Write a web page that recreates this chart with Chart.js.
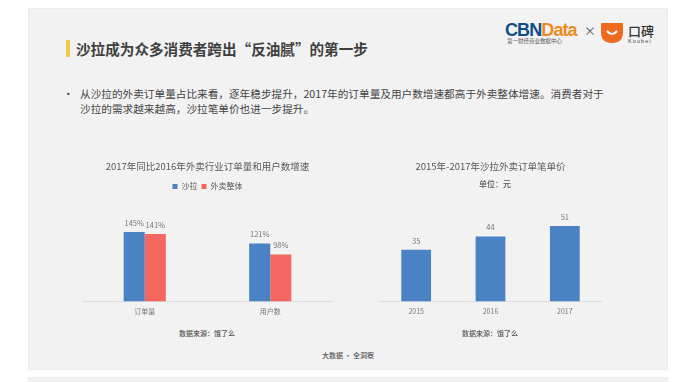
<!DOCTYPE html>
<html lang="zh">
<head>
<meta charset="utf-8">
<title>沙拉成为众多消费者跨出“反油腻”的第一步</title>
<script src="https://cdn.jsdelivr.net/npm/chart.js@4/dist/chart.umd.min.js"></script>
<style>
  html, body { margin: 0; padding: 0; background: #fff; overflow: hidden; }
  body { width: 700px; height: 382px; position: relative; font-family: "Noto Sans CJK SC", "Noto Sans", sans-serif; color: #444; }
  .panel { position: absolute; left: 28px; width: 640px; background: #f2f2f2; box-sizing: border-box; border: 1px solid #ececec; }
  .txt { position: absolute; white-space: nowrap; line-height: 1; }
  .mid { transform: translateX(-50%); }
  canvas { position: absolute; }
</style>
</head>
<body>
<div class="panel" style="top:8px;height:362px"></div>
<div class="panel" style="top:377px;height:12px"></div>

<div style="position:absolute;left:66px;top:40px;width:4px;height:17px;background:#f0c94a"></div>
<div class="txt" style="left:76px;top:42px;font-size:14.6px;font-weight:700;color:#3f3f3f">沙拉成为众多消费者跨出“反油腻”的第一步</div>

<div class="txt" style="left:63px;top:89px;font-size:10.6px">•</div>
<div class="txt" style="left:80px;top:89px;font-size:10.65px">从沙拉的外卖订单量占比来看，逐年稳步提升，2017年的订单量及用户数增速都高于外卖整体增速。消费者对于</div>
<div class="txt" style="left:80px;top:103.5px;font-size:10.65px">沙拉的需求越来越高，沙拉笔单价也进一步提升。</div>

<!-- logos -->
<div class="txt" style="left:505px;top:20px;font:700 18px 'Liberation Sans';letter-spacing:-0.9px;color:#0f4c8a">CBN<span style="color:#ee8a1f">Data</span></div>
<div class="txt" style="left:507px;top:38.5px;font-size:5.5px;color:#555">第一财经商业数据中心</div>
<div class="txt" style="left:584px;top:25px;font-size:12px;color:#555">×</div>
<svg style="position:absolute;left:600px;top:23px" width="24" height="21" viewBox="0 0 24 21">
  <path d="M1 1 Q1 0 2 0 H22 Q23 0 23 1 V9 Q23 20 12 20 Q1 20 1 9 Z" fill="#ee6a1f"/>
  <path d="M7 8 Q12 14 17 8" fill="none" stroke="#fff" stroke-width="2"/>
</svg>
<div class="txt" style="left:628px;top:24px;font-size:13px;font-weight:500;color:#333">口碑</div>
<div class="txt" style="left:628px;top:38px;font:5.5px 'Liberation Sans';letter-spacing:1.1px;color:#444">Koubei</div>

<canvas id="orderChart" style="left:82px;top:155px"></canvas>
<canvas id="priceChart" style="left:379px;top:155px"></canvas>

<div class="txt mid" style="left:495px;top:180px;font-size:8px;font-weight:500;color:#555">单位：元</div>
<div class="txt mid" style="left:207px;top:330px;font-size:7px;font-weight:500;color:#555">数据来源：饿了么</div>
<div class="txt mid" style="left:490px;top:330px;font-size:7px;font-weight:500;color:#555">数据来源：饿了么</div>
<div class="txt mid" style="left:348px;top:352px;font-size:7px;font-weight:500;color:#555">大数据 · 全洞察</div>

<script>
// 数据
const orderCategories = ["订单量", "用户数"];
const saladGrowth = [145, 121];
const takeoutGrowth = [141, 98];
const priceYears = ["2015", "2016", "2017"];
const saladPrice = [35, 44, 51];

const BLUE = "#4a82c3";
const RED = "#f4665f";
const FONT = '"Noto Sans CJK SC", "Noto Sans", sans-serif';

// 柱子上方的数值
const barLabels = {
    id: "barLabels",
    afterDatasetsDraw(chart, args, opts) {
        const ctx = chart.ctx;
        ctx.save();
        ctx.font = "7.5px " + FONT;
        ctx.fillStyle = "#777";
        ctx.textAlign = "center";
        ctx.textBaseline = "middle";
        chart.data.datasets.forEach((ds, i) => {
            chart.getDatasetMeta(i).data.forEach((bar, j) => {
                ctx.fillText(ds.data[j] + opts.suffix, bar.x, bar.y - 9);
            });
        });
        ctx.restore();
    }
};

function baseOptions(titleText, yMax, suffix, showLegend) {
    return {
        responsive: false,
        animation: false,
        layout: { padding: 0 },
        plugins: {
            title: {
                display: true,
                text: titleText,
                color: "#595959",
                font: { family: FONT, size: 9.5, weight: "normal" },
                padding: { top: 6, bottom: showLegend ? 6 : 7 }
            },
            legend: {
                display: showLegend,
                labels: {
                    boxWidth: 5,
                    boxHeight: 5,
                    padding: 4,
                    color: "#595959",
                    font: { family: FONT, size: 8 }
                }
            },
            tooltip: { enabled: false },
            barLabels: { suffix: suffix }
        },
        scales: {
            x: {
                grid: { display: false, drawTicks: false },
                border: { color: "#dddddd" },
                ticks: { color: "#777", font: { family: FONT, size: 7 }, padding: 6, maxRotation: 0 }
            },
            y: { display: false, min: 0, max: yMax }
        }
    };
}

function makeChart(id, width, labels, datasets, options) {
    const canvas = document.getElementById(id);
    canvas.width = width;
    canvas.height = 167;
    canvas.style.width = width + "px";
    canvas.style.height = "167px";
    return new Chart(canvas.getContext("2d"), {
        type: "bar",
        data: { labels: labels, datasets: datasets },
        options: options,
        plugins: [barLabels]
    });
}

makeChart("orderChart", 251, orderCategories, [
    { label: "沙拉", data: saladGrowth, backgroundColor: BLUE, barPercentage: 1, categoryPercentage: 0.336 },
    { label: "外卖整体", data: takeoutGrowth, backgroundColor: RED, barPercentage: 1, categoryPercentage: 0.336 }
], baseOptions("2017年同比2016年外卖行业订单量和用户数增速", 211, "%", true));

makeChart("priceChart", 223, priceYears, [
    { label: "笔单价", data: saladPrice, backgroundColor: BLUE, barPercentage: 1, categoryPercentage: 0.4 }
], baseOptions("2015年-2017年沙拉外卖订单笔单价", 82.5, "", false));
</script>
</body>
</html>
